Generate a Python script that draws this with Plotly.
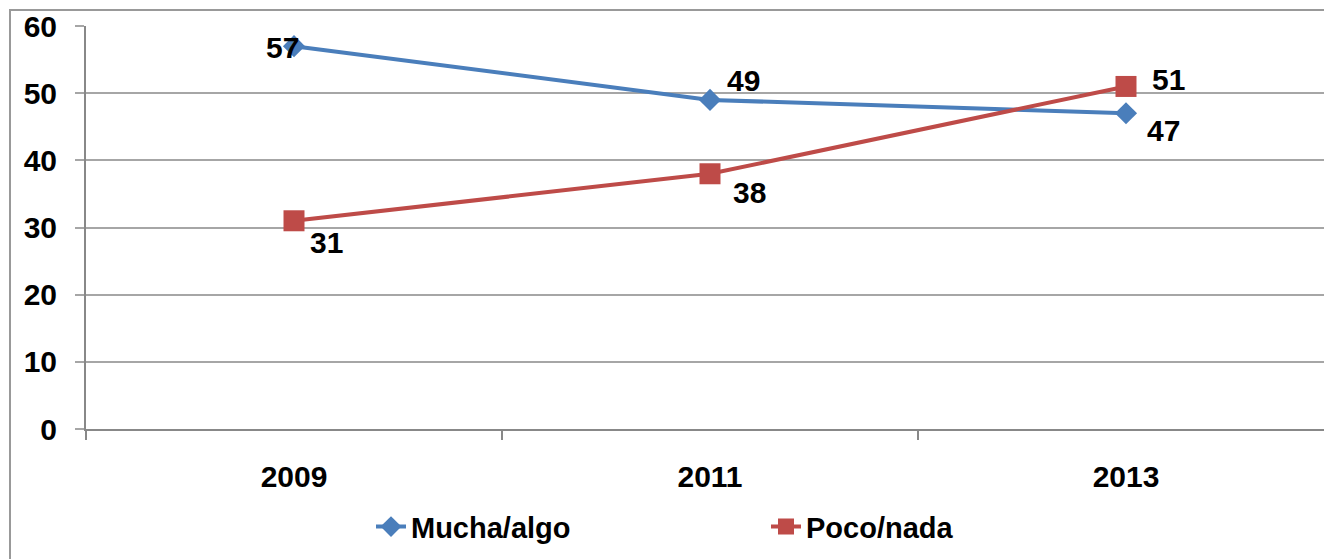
import plotly.graph_objects as go

# chart data
years = ["2009", "2011", "2013"]
mucha_algo = [57, 49, 47]
poco_nada = [31, 38, 51]

# label offsets (px) from each point
mucha_shift = [(-12, -1), (33, 19), (37, -17)]
poco_shift = [(32, -22), (39, -19), (42, 7)]

FONT = "Liberation Sans"
font_bold = dict(family=FONT, size=30, color="black", weight="bold")

fig = go.Figure()
fig.add_trace(go.Scatter(
    x=years, y=mucha_algo,
    mode="lines+markers",
    name="Mucha/algo",
    line=dict(color="#4a7ebb", width=4),
    marker=dict(symbol="diamond", size=17, color="#4a7ebb"),
    cliponaxis=False,
))
fig.add_trace(go.Scatter(
    x=years, y=poco_nada,
    mode="lines+markers",
    name="Poco/nada",
    line=dict(color="#be4b48", width=4),
    marker=dict(symbol="square", size=21, color="#be4b48"),
    cliponaxis=False,
))

# data labels (category index used as x so "2009" isn't read as a number)
for vals, shifts in [(mucha_algo, mucha_shift), (poco_nada, poco_shift)]:
    for i, (v, (dx, dy)) in enumerate(zip(vals, shifts)):
        fig.add_annotation(x=i, y=v, text=str(v), showarrow=False,
                           xshift=dx, yshift=dy, font=font_bold,
                           xanchor="center", yanchor="middle")

# page body has an 8px margin, so the figure is drawn a bit smaller
fig.update_layout(
    width=1326, height=551,
    margin=dict(l=78, r=0, t=18, b=130, autoexpand=False),
    paper_bgcolor="white",
    plot_bgcolor="white",
    font=dict(family=FONT, size=30, color="black", weight="bold"),
    showlegend=True,
    legend=dict(orientation="h", x=(371 - 86) / 1248, xanchor="left",
                y=-0.2425, yanchor="middle",
                font=dict(family=FONT, size=29, weight="bold"),
                entrywidth=350, tracegroupgap=0),
    xaxis=dict(
        type="category",
        automargin=False,
        showgrid=False,
        showline=True, linecolor="#888888", linewidth=2,
        ticks="outside", tickson="boundaries", ticklen=9,
        tickcolor="#888888", tickwidth=2,
        range=[-0.5, 2.5],
        tickfont=font_bold,
        zeroline=False,
        ticklabelstandoff=20,
    ),
    yaxis=dict(
        range=[0, 60], dtick=10,
        automargin=False,
        showgrid=True, gridcolor="#a6a6a6", gridwidth=2,
        showline=True, linecolor="#888888", linewidth=2,
        ticks="outside", ticklen=9, tickcolor="#a6a6a6", tickwidth=2,
        tickfont=font_bold,
        zeroline=False,
        ticklabelstandoff=12,
    ),
    shapes=[dict(
        type="rect", xref="paper", yref="paper",
        x0=-(78 - 2) / 1248, x1=1.02, y0=-0.6, y1=1 + (18 - 2) / 403,
        line=dict(color="#999999", width=2), fillcolor="rgba(0,0,0,0)",
        layer="above",
    )],
)

fig.write_html("out.html")
